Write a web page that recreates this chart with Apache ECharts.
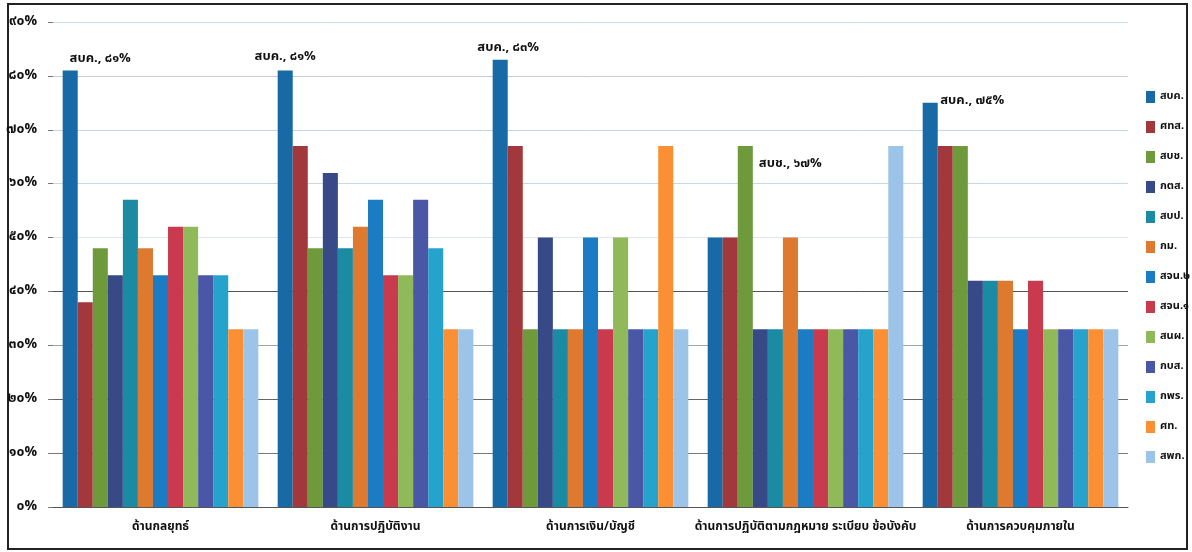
<!DOCTYPE html>
<html>
<head>
<meta charset="utf-8">
<script src="https://cdn.jsdelivr.net/npm/echarts@6/dist/echarts.min.js"></script>
<style>
  html, body { margin: 0; padding: 0; background: #fff; }
  #chart { width: 1192px; height: 552px; }
</style>
</head>
<body>
<div id="chart"></div>
<script>
// Assessment areas (x-axis categories)
const categories = [
  'ด้านกลยุทธ์',
  'ด้านการปฏิบัติงาน',
  'ด้านการเงิน/บัญชี',
  'ด้านการปฏิบัติตามกฎหมาย ระเบียบ ข้อบังคับ',
  'ด้านการควบคุมภายใน'
];

// Units (one bar series each)
const unitNames = ['สบค.', 'ศทส.', 'สบช.', 'กตส.', 'สบป.', 'กม.', 'สจน.๒', 'สจน.๑', 'สนผ.', 'กบส.', 'กพร.', 'ศท.', 'สพก.'];

// Percent per unit, one value per area
const vSBK   = [81, 81, 83, 50, 75];
const vSTS   = [38, 67, 67, 50, 67];
const vSBCh  = [48, 48, 33, 67, 67];
const vKTS   = [43, 62, 50, 33, 42];
const vSBP   = [57, 48, 33, 33, 42];
const vKM    = [48, 52, 33, 50, 42];
const vSJN2  = [43, 57, 50, 33, 33];
const vSJN1  = [52, 43, 33, 33, 42];
const vSNP   = [52, 43, 50, 33, 33];
const vKBS   = [43, 57, 33, 33, 33];
const vKPR   = [43, 48, 33, 33, 33];
const vST    = [33, 33, 67, 33, 33];
const vSPK   = [33, 33, 33, 67, 33];

const seriesValues = [vSBK, vSTS, vSBCh, vKTS, vSBP, vKM, vSJN2, vSJN1, vSNP, vKBS, vKPR, vST, vSPK];

// Y-axis tick labels
const yTickLabels = ['๐%', '๑๐%', '๒๐%', '๓๐%', '๔๐%', '๕๐%', '๖๐%', '๗๐%', '๘๐%', '๙๐%'];

// Callouts: [series index, category index]
const callouts = [[0, 0], [0, 1], [0, 2], [2, 3], [0, 4]];

const colors = ['#176aa6', '#a3383c', '#6e9a3c', '#374a87', '#1b8ba3', '#dd7a30', '#1b7cc4',
                '#c93a4e', '#90ba59', '#4a57a6', '#25a3cc', '#fb8f34', '#9cc4e8'];

const thaiDigits = '๐๑๒๓๔๕๖๗๘๙';
const toThai = s => String(s).replace(/[0-9]/g, d => thaiDigits[+d]);

// Offsets of each callout relative to the bar top
const calloutOffsets = {
  '0-0': [30, 0], '0-1': [0, -2], '0-2': [8, 0], '2-3': [45, 30], '0-4': [42, 10]
};

const font = '"Noto Sans Thai", "Noto Sans", "DejaVu Sans", sans-serif';

const series = unitNames.map((name, si) => ({
  name,
  type: 'bar',
  barGap: 0,
  barCategoryGap: '9%',
  itemStyle: { color: colors[si] },
  data: seriesValues[si].map((v, ci) => {
    const key = si + '-' + ci;
    const isCallout = callouts.some(c => c[0] === si && c[1] === ci);
    if (!isCallout) return v;
    return {
      value: v,
      label: {
        show: true,
        position: 'top',
        offset: calloutOffsets[key],
        formatter: p => p.seriesName + ', ' + toThai(p.value) + '%',
        color: '#111',
        fontFamily: font,
        fontSize: 13,
        fontWeight: 'bold'
      }
    };
  })
}));

const chart = echarts.init(document.getElementById('chart'));
chart.setOption({
  animation: false,
  backgroundColor: '#fff',
  grid: { left: 53, right: 64, top: 22, bottom: 45, containLabel: false },
  xAxis: {
    type: 'category',
    data: categories,
    axisLine: { show: true, lineStyle: { color: '#555', width: 1 } },
    axisTick: { show: false },
    axisLabel: { margin: 15, color: '#111', fontFamily: font, fontSize: 12, fontWeight: 'bold', interval: 0 }
  },
  yAxis: {
    type: 'value',
    min: 0,
    max: 90,
    interval: 10,
    axisLine: { show: false },
    axisTick: { show: true, inside: false, length: 5, lineStyle: { color: '#777' } },
    axisLabel: {
      margin: 16,
      color: '#111',
      fontFamily: font,
      fontSize: 14,
      fontWeight: 'bold',
      formatter: v => yTickLabels[Math.round(v / 10)]
    },
    splitLine: {
      show: true,
      lineStyle: {
        color: ['#666', '#777', '#666', '#9aa8a8', '#555', '#dde6ee', '#c5d8e6', '#c5d5e6', '#c8c8e0', '#c8dcea'],
        width: 1
      }
    }
  },
  legend: {
    orient: 'vertical',
    left: 1141,
    top: 86,
    itemWidth: 9,
    itemHeight: 12,
    itemGap: 18,
    itemTextGap: 4,
    icon: 'rect',
    textStyle: { color: '#111', fontFamily: font, fontSize: 11, fontWeight: 'bold', padding: [0, 0, 0, 0] },
    data: unitNames
  },
  graphic: [{
    type: 'rect',
    shape: { x: 8, y: 4, width: 1179, height: 545 },
    style: { fill: 'none', stroke: '#222', lineWidth: 2 },
    silent: true
  }],
  series
});
</script>
</body>
</html>
